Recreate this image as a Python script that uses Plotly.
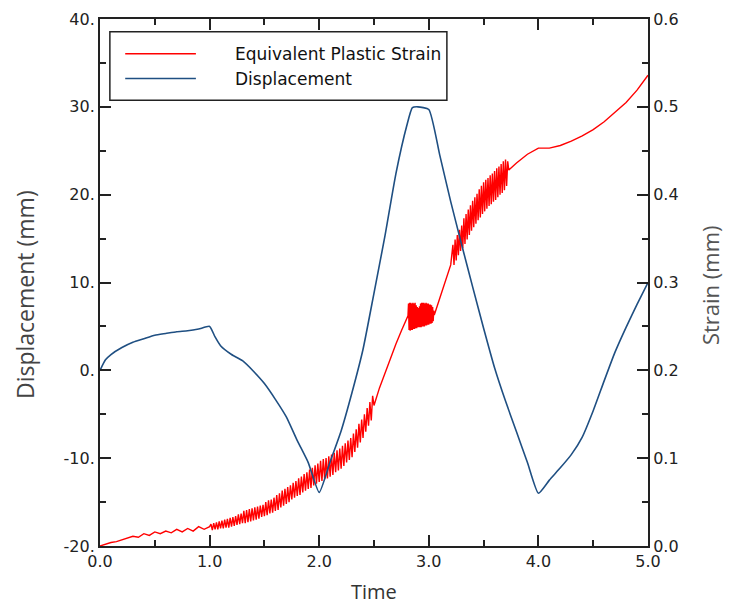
import plotly.graph_objects as go

# displacement (mm) vs time
t_disp = [0.0, 0.05, 0.1, 0.2, 0.3, 0.4, 0.5, 0.6, 0.7, 0.8, 0.9, 1.0, 1.05, 1.1,
          1.2, 1.3, 1.4, 1.5, 1.6, 1.7, 1.8, 1.9, 2.0, 2.1, 2.2, 2.3, 2.4, 2.5,
          2.6, 2.7, 2.8, 2.85, 2.9, 3.0, 3.1, 3.2, 3.3, 3.4, 3.5, 3.6, 3.7, 3.8,
          3.9, 4.0, 4.1, 4.2, 4.3, 4.4, 4.5, 4.6, 4.7, 4.8, 4.9, 5.0]
displacement = [0.0, 1.2, 1.8, 2.6, 3.2, 3.6, 4.0, 4.2, 4.4, 4.5, 4.7, 5.0, 3.8, 2.8,
                1.8, 1.1, -0.1, -1.5, -3.3, -5.3, -8.0, -10.5, -13.9, -10.4, -6.9, -2.5, 2.4, 8.8,
                15.3, 22.4, 27.9, 29.9, 30.0, 29.7, 24.5, 19.2, 14.3, 9.5, 4.8, 0.3, -3.5, -7.0,
                -10.5, -14.0, -12.5, -11.1, -9.6, -7.6, -4.6, -1.2, 2.1, 4.9, 7.5, 10.0]

# equivalent plastic strain vs time (noisy bands)
t_strain = [
    0.00, 0.05, 0.10, 0.15, 0.20, 0.25, 0.30, 0.35, 0.40, 0.45, 0.50, 0.55, 0.60, 0.65,
    0.70, 0.75, 0.80, 0.85, 0.90, 0.95, 1.00,
    1.0125, 1.025, 1.0375, 1.05, 1.0625, 1.075, 1.0875, 1.10,
    1.1125, 1.125, 1.1375, 1.15, 1.1625, 1.175, 1.1875, 1.20,
    1.2125, 1.225, 1.2375, 1.25, 1.2625, 1.275, 1.2875, 1.30,
    1.3125, 1.325, 1.3375, 1.35, 1.3625, 1.375, 1.3875, 1.40,
    1.4125, 1.425, 1.4375, 1.45, 1.4625, 1.475, 1.4875, 1.50,
    1.5125, 1.525, 1.5375, 1.55, 1.5625, 1.575, 1.5875, 1.60,
    1.6125, 1.625, 1.6375, 1.65, 1.6625, 1.675, 1.6875, 1.70,
    1.7125, 1.725, 1.7375, 1.75, 1.7625, 1.775, 1.7875, 1.80,
    1.8125, 1.825, 1.8375, 1.85, 1.8625, 1.875, 1.8875, 1.90,
    1.9125, 1.925, 1.9375, 1.95, 1.9625, 1.975, 1.9875, 2.00,
    2.0125, 2.025, 2.0375, 2.05, 2.0625, 2.075, 2.0875, 2.10,
    2.1125, 2.125, 2.1375, 2.15, 2.1625, 2.175, 2.1875, 2.20,
    2.2125, 2.225, 2.2375, 2.25, 2.2625, 2.275, 2.2875, 2.30,
    2.3125, 2.325, 2.3375, 2.35, 2.3625, 2.375, 2.3875, 2.40,
    2.4125, 2.425, 2.4375, 2.45, 2.4625, 2.475, 2.4875, 2.50,
    2.55, 2.60, 2.65, 2.70, 2.75, 2.78,
    2.810, 2.815, 2.820, 2.825, 2.830, 2.835, 2.840, 2.845, 2.850, 2.855,
    2.860, 2.865, 2.870, 2.875, 2.880, 2.885, 2.890, 2.895, 2.900, 2.905,
    2.910, 2.915, 2.920, 2.925, 2.930, 2.935, 2.940, 2.945, 2.950, 2.955,
    2.960, 2.965, 2.970, 2.975, 2.980, 2.985, 2.990, 2.995, 3.000, 3.005,
    3.010, 3.015, 3.020, 3.025, 3.030, 3.035, 3.040, 3.045, 3.050,
    3.10, 3.15, 3.20,
    3.22, 3.23, 3.24, 3.25, 3.26, 3.27, 3.28, 3.29, 3.30, 3.31, 3.32, 3.33, 3.34,
    3.35, 3.36, 3.37, 3.38, 3.39, 3.40, 3.41, 3.42, 3.43, 3.44, 3.45, 3.46, 3.47,
    3.48, 3.49, 3.50, 3.51, 3.52, 3.53, 3.54, 3.55, 3.56, 3.57, 3.58, 3.59, 3.60,
    3.61, 3.62, 3.63, 3.64, 3.65, 3.66, 3.67, 3.68, 3.69, 3.70, 3.71, 3.72,
    3.73, 3.80, 3.90, 4.00, 4.10, 4.20, 4.30, 4.40, 4.50, 4.60, 4.70, 4.80, 4.90, 5.00]
strain = [
    0.000, 0.002, 0.004, 0.005, 0.007, 0.009, 0.011, 0.010, 0.014, 0.012, 0.016, 0.014, 0.017, 0.015,
    0.019, 0.016, 0.020, 0.017, 0.022, 0.019, 0.022,
    0.025, 0.018, 0.026, 0.019, 0.027, 0.019, 0.028, 0.020,
    0.029, 0.020, 0.030, 0.021, 0.031, 0.021, 0.032, 0.022,
    0.033, 0.023, 0.034, 0.024, 0.036, 0.025, 0.037, 0.026,
    0.040, 0.026, 0.041, 0.027, 0.042, 0.028, 0.043, 0.029,
    0.044, 0.030, 0.045, 0.031, 0.046, 0.033, 0.047, 0.034,
    0.050, 0.035, 0.052, 0.037, 0.053, 0.038, 0.055, 0.040,
    0.058, 0.041, 0.060, 0.044, 0.063, 0.046, 0.065, 0.048,
    0.067, 0.050, 0.069, 0.053, 0.072, 0.055, 0.074, 0.057,
    0.077, 0.058, 0.079, 0.061, 0.082, 0.063, 0.084, 0.065,
    0.087, 0.066, 0.089, 0.069, 0.092, 0.071, 0.094, 0.073,
    0.097, 0.074, 0.099, 0.076, 0.100, 0.077, 0.102, 0.079,
    0.104, 0.081, 0.106, 0.084, 0.109, 0.086, 0.111, 0.088,
    0.114, 0.091, 0.117, 0.095, 0.120, 0.098, 0.123, 0.101,
    0.128, 0.107, 0.133, 0.112, 0.139, 0.118, 0.144, 0.123,
    0.150, 0.130, 0.157, 0.137, 0.164, 0.143, 0.171, 0.160,
    0.180, 0.197, 0.214, 0.230, 0.245, 0.253,
    0.262, 0.276, 0.246, 0.277, 0.245, 0.277, 0.246, 0.276, 0.246, 0.277,
    0.247, 0.276, 0.247, 0.277, 0.248, 0.274, 0.248, 0.272, 0.249, 0.271,
    0.249, 0.273, 0.249, 0.276, 0.249, 0.277, 0.250, 0.277, 0.250, 0.277,
    0.250, 0.276, 0.251, 0.277, 0.251, 0.276, 0.252, 0.276, 0.252, 0.275,
    0.253, 0.275, 0.253, 0.274, 0.254, 0.272, 0.256, 0.268, 0.263,
    0.282, 0.301, 0.320,
    0.343, 0.320, 0.349, 0.325, 0.354, 0.331, 0.360, 0.336, 0.365, 0.339, 0.373, 0.344, 0.378,
    0.349, 0.383, 0.354, 0.388, 0.359, 0.393, 0.363, 0.397, 0.367, 0.401, 0.371, 0.406, 0.374,
    0.410, 0.378, 0.414, 0.381, 0.417, 0.384, 0.419, 0.387, 0.422, 0.389, 0.424, 0.392, 0.427,
    0.394, 0.430, 0.397, 0.432, 0.400, 0.435, 0.402, 0.438, 0.405, 0.440, 0.410, 0.438,
    0.428, 0.436, 0.446, 0.453, 0.453, 0.456, 0.461, 0.467, 0.474, 0.483, 0.494, 0.505, 0.519, 0.536]

disp_ticks = [-20, -10, 0, 10, 20, 30, 40]
disp_labels = ["-20.", "-10.", "0.", "10.", "20.", "30.", "40."]

RED = "#ff0000"
BLUE = "#1f4f82"
AXIS = "#222222"
FONT = "DejaVu Sans"
TITLE_FONT = "Open Sans"

fig = go.Figure()

# strain on the primary axis (right side) so displacement draws above it
fig.add_trace(go.Scatter(x=t_strain, y=strain, mode="lines", yaxis="y",
                         line=dict(color=RED, width=1.4), name="Equivalent Plastic Strain"))
fig.add_trace(go.Scatter(x=t_disp, y=displacement, mode="lines", yaxis="y2",
                         line=dict(color=BLUE, width=1.6, shape="spline", smoothing=0.5),
                         name="Displacement"))

common = dict(showgrid=False, zeroline=False, showline=True, linecolor=AXIS, linewidth=2,
              ticks="inside", ticklen=11, tickwidth=2, tickcolor=AXIS,
              tickfont=dict(family=FONT, size=16, color=AXIS))

fig.update_layout(
    width=729, height=606,
    margin=dict(l=100, r=81, t=10, b=60),
    paper_bgcolor="white", plot_bgcolor="white",
    showlegend=False,
    xaxis=dict(range=[0, 5], tickvals=[0, 1, 2, 3, 4, 5], tickformat=".1f",
               mirror="ticks",
               minor=dict(ticks="inside", dtick=0.5, ticklen=6, tickwidth=2, tickcolor=AXIS),
               **common),
    yaxis=dict(range=[0, 0.6], side="right", dtick=0.1, tickformat=".1f",
               minor=dict(ticks="inside", dtick=0.05, ticklen=6, tickwidth=2, tickcolor=AXIS),
               **common),
    yaxis2=dict(range=[-20, 40], side="left", overlaying="y", tickvals=disp_ticks,
                ticktext=disp_labels,
                minor=dict(ticks="inside", dtick=5, ticklen=6, tickwidth=2, tickcolor=AXIS),
                **common),
)

# axis titles
fig.add_annotation(text="Displacement (mm)", xref="paper", yref="paper", x=-0.137, y=0.478,
                   xanchor="center", yanchor="middle", textangle=-90, showarrow=False,
                   font=dict(family=TITLE_FONT, size=23, color="#444444"))
fig.add_annotation(text="Strain (mm)", xref="paper", yref="paper", x=1.113, y=0.495,
                   xanchor="center", yanchor="middle", textangle=-90, showarrow=False,
                   font=dict(family=TITLE_FONT, size=22, color="#555555"))
fig.add_annotation(text="Time", xref="paper", yref="paper", x=0.5, y=-0.087,
                   xanchor="center", yanchor="middle", showarrow=False,
                   font=dict(family=TITLE_FONT, size=20, color="#333333"))

# legend box drawn by hand to match the original layout
fig.add_shape(type="rect", xref="paper", yref="paper", x0=0.018, x1=0.633, y0=0.846, y1=0.976,
              line=dict(color=AXIS, width=1.5), fillcolor="white", layer="above")
fig.add_shape(type="line", xref="paper", yref="paper", x0=0.046, x1=0.175, y0=0.934, y1=0.934,
              line=dict(color=RED, width=1.5), layer="above")
fig.add_shape(type="line", xref="paper", yref="paper", x0=0.046, x1=0.175, y0=0.887, y1=0.887,
              line=dict(color=BLUE, width=1.5), layer="above")
fig.add_annotation(text="Equivalent Plastic Strain", xref="paper", yref="paper", x=0.243, y=0.934,
                   xanchor="left", yanchor="middle", showarrow=False,
                   font=dict(family=FONT, size=17, color="#111111"))
fig.add_annotation(text="Displacement", xref="paper", yref="paper", x=0.243, y=0.887,
                   xanchor="left", yanchor="middle", showarrow=False,
                   font=dict(family=FONT, size=17, color="#111111"))

# drop the default page margin so the figure sits at the window's top-left corner
fig.write_html("out.html", config={"displayModeBar": False},
               post_script="document.body.style.margin='0';document.body.style.overflow='hidden';")
